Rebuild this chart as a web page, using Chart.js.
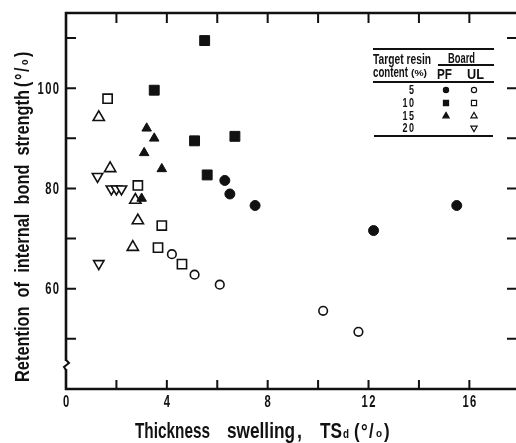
<!DOCTYPE html>
<html>
<head>
<meta charset="utf-8">
<script src="https://cdn.jsdelivr.net/npm/chart.js@4.4.0/dist/chart.umd.min.js"></script>
<style>
html,body{margin:0;padding:0;background:#fff}
canvas{display:block}
</style>
</head>
<body>
<canvas id="ibChart" width="516" height="443"></canvas>
<script>
const FONT = '"Liberation Sans", Arial, sans-serif';

// thickness swelling TSd (%) vs retention of IB strength (%)
const pf5TS  = [6.3, 6.5, 7.5, 12.2, 15.5];
const pf5IB  = [81.6, 78.9, 76.6, 71.6, 76.6];
const pf10TS = [5.5, 3.5, 5.1, 6.7, 5.6];
const pf10IB = [109.5, 99.6, 89.5, 90.4, 82.7];
const pf15TS = [3.2, 3.5, 3.1, 3.8, 3.0];
const pf15IB = [92.0, 90.0, 87.1, 83.9, 78.0];
const ul5TS  = [4.2, 5.1, 6.1, 10.2, 11.6];
const ul5IB  = [66.9, 62.8, 60.8, 55.6, 51.4];
const ul10TS = [1.65, 2.85, 3.8, 3.65, 4.6];
const ul10IB = [97.9, 80.6, 72.6, 68.2, 64.9];
const ul15TS = [1.3, 1.75, 2.75, 2.85, 2.65];
const ul15IB = [94.2, 84.0, 77.7, 73.6, 68.3];
const ul20TS = [1.25, 1.8, 2.0, 2.2, 1.3];
const ul20IB = [82.4, 79.9, 79.9, 79.9, 65.0];

const xLabels = [0, 4, 8, 12, 16];
const yLabels = [60, 80, 100];
const xTickMarks = [2, 4, 6, 8, 10, 12, 14, 16];
const yTickMarks = [50, 60, 70, 80, 90, 100, 110];
const resinContents = ['5', '10', '15', '20'];

const pts = (xs, ys) => xs.map((x, i) => ({x: x, y: ys[i]}));

function series(label, xs, ys, style, filled, radius, rotation) {
    return {
        label: label,
        data: pts(xs, ys),
        pointStyle: style,
        pointRadius: radius,
        pointRotation: rotation || 0,
        backgroundColor: filled ? '#111' : '#fff',
        borderColor: '#111',
        borderWidth: filled ? 1 : 1.6,
        showLine: false,
        clip: false
    };
}

const datasets = [
    series('PF 5', pf5TS, pf5IB, 'circle', true, 5),
    series('PF 10', pf10TS, pf10IB, 'rect', true, 7),
    series('PF 15', pf15TS, pf15IB, 'triangle', true, 5.5),
    series('UL 5', ul5TS, ul5IB, 'circle', false, 4.3),
    series('UL 10', ul10TS, ul10IB, 'rect', false, 6.5),
    series('UL 15', ul15TS, ul15IB, 'triangle', false, 6.5),
    series('UL 20', ul20TS, ul20IB, 'triangle', false, 6, 180)
];

// legend table symbols: [PF, UL] for each resin content row
const legendMarks = [
    [{pointStyle: 'circle', radius: 2.6, fill: true}, {pointStyle: 'circle', radius: 2.6, fill: false}],
    [{pointStyle: 'rect', radius: 3.6, fill: true}, {pointStyle: 'rect', radius: 3.6, fill: false}],
    [{pointStyle: 'triangle', radius: 3.6, fill: true}, {pointStyle: 'triangle', radius: 3.6, fill: false}],
    [null, {pointStyle: 'triangle', radius: 3.6, rotation: 180, fill: false}]
];

// condensed text: squeeze horizontally by sx
function cText(ctx, text, x, y, size, sx, align, spacing) {
    ctx.save();
    ctx.font = 'bold ' + size + 'px ' + FONT;
    ctx.letterSpacing = (spacing || 0) + 'px';
    const w = (ctx.measureText(text).width - (spacing || 0)) * sx;
    const left = align === 'center' ? x - w / 2 : align === 'right' ? x - w : x;
    ctx.translate(left, y);
    ctx.scale(sx, 1);
    ctx.textAlign = 'left';
    ctx.fillText(text, 0, 0);
    ctx.restore();
    return w;
}

// text squeezed to fit between x0 and x1
function fitText(ctx, text, x0, x1, y, size, spacing) {
    ctx.save();
    ctx.font = 'bold ' + size + 'px ' + FONT;
    ctx.letterSpacing = (spacing || 0) + 'px';
    const w = ctx.measureText(text).width - (spacing || 0);
    ctx.restore();
    cText(ctx, text, x0, y, size, (x1 - x0) / w, 'left', spacing);
}

// "(°/o)" with a small lowered o
function percentUnit(ctx, x, y, size) {
    cText(ctx, '(', x, y, size, 0.8, 'left');
    cText(ctx, '°', x + 7, y, size, 0.8, 'left');
    cText(ctx, '/', x + 15, y, size, 0.8, 'left');
    cText(ctx, 'o', x + 22, y - 1, Math.round(size * 0.5), 0.9, 'left');
    cText(ctx, ')', x + 30, y, size, 0.8, 'left');
}

const framePlugin = {
    id: 'frame',
    afterDraw(chart) {
        const ctx = chart.ctx;
        const a = chart.chartArea;
        const xs = chart.scales.x, ys = chart.scales.y;
        ctx.save();
        ctx.strokeStyle = '#111';
        ctx.fillStyle = '#111';
        ctx.lineCap = 'butt';
        ctx.lineWidth = 2.6;
        ctx.beginPath();
        ctx.moveTo(a.left, a.bottom);
        ctx.lineTo(a.left, a.top);
        ctx.lineTo(a.right, a.top);
        ctx.moveTo(a.left - 1.3, a.bottom);
        ctx.lineTo(a.right, a.bottom);
        ctx.stroke();
        ctx.lineWidth = 2;
        ctx.beginPath();
        xTickMarks.forEach(v => {
            const px = xs.getPixelForValue(v);
            ctx.moveTo(px, a.bottom); ctx.lineTo(px, a.bottom - 9);
            ctx.moveTo(px, a.top); ctx.lineTo(px, a.top + 10);
        });
        yTickMarks.forEach(v => {
            const py = ys.getPixelForValue(v);
            ctx.moveTo(a.left, py); ctx.lineTo(a.left + 10, py);
            ctx.moveTo(a.right, py); ctx.lineTo(a.right - 9, py);
        });
        ctx.stroke();
        // axis break
        const by = ys.getPixelForValue(44.8);
        ctx.fillStyle = '#fff';
        ctx.fillRect(a.left - 3, by - 4, 6, 8);
        ctx.fillStyle = '#111';
        ctx.lineWidth = 2;
        ctx.beginPath();
        ctx.moveTo(a.left, by - 5);
        ctx.lineTo(a.left + 3, by - 2);
        ctx.lineTo(a.left - 2, by + 2);
        ctx.lineTo(a.left, by + 5);
        ctx.stroke();

        // tick labels
        ctx.textBaseline = 'middle';
        xLabels.forEach(v => cText(ctx, String(v), xs.getPixelForValue(v), 403, 16, 0.7, 'center', 2));
        yLabels.forEach(v => cText(ctx, String(v), 59, ys.getPixelForValue(v) + 1, 16, 0.7, 'right', 2));

        // x title
        ctx.textBaseline = 'alphabetic';
        fitText(ctx, 'Thickness', 135, 210, 438, 22);
        fitText(ctx, 'swelling', 227, 295, 438, 22);
        fitText(ctx, ',', 297, 302, 438, 22);
        fitText(ctx, 'TS', 320, 342, 438, 22);
        fitText(ctx, 'd', 343, 349, 438, 12);
        percentUnit(ctx, 354, 438, 21);

        // y title, rotated (reads bottom to top)
        ctx.save();
        ctx.translate(29, 382);
        ctx.rotate(-Math.PI / 2);
        fitText(ctx, 'Retention  of  internal  bond  strength', 0, 292, 0, 21);
        percentUnit(ctx, 295, 0, 20);
        ctx.restore();
        ctx.restore();
    }
};

const legendTablePlugin = {
    id: 'legendTable',
    afterDraw(chart) {
        const ctx = chart.ctx;
        ctx.save();
        ctx.strokeStyle = '#111';
        ctx.fillStyle = '#111';
        ctx.lineWidth = 1.8;
        ctx.beginPath();
        ctx.moveTo(373, 49); ctx.lineTo(494, 49);
        ctx.moveTo(438, 65); ctx.lineTo(494, 65);
        ctx.moveTo(373, 82); ctx.lineTo(494, 82);
        ctx.moveTo(374, 136); ctx.lineTo(493, 136);
        ctx.stroke();

        ctx.textBaseline = 'alphabetic';
        fitText(ctx, 'Target resin', 373, 431, 64, 15);
        fitText(ctx, 'Board', 448, 475, 63, 14);
        fitText(ctx, 'content', 373, 408, 77, 14);
        fitText(ctx, '(%)', 411, 427, 76, 9);
        fitText(ctx, 'PF', 437, 452, 79, 14);
        fitText(ctx, 'UL', 467, 484, 79, 14);

        const rowY = [90, 103, 116, 128];
        ctx.textBaseline = 'middle';
        resinContents.forEach((r, i) => {
            cText(ctx, r, 414, rowY[i] + 1, 12, 0.75, 'right', 2);
            legendMarks[i].forEach((m, j) => {
                if (!m) return;
                ctx.fillStyle = m.fill ? '#111' : '#fff';
                ctx.strokeStyle = '#111';
                ctx.lineWidth = 1.2;
                Chart.helpers.drawPoint(ctx, {
                    pointStyle: m.pointStyle,
                    radius: m.radius,
                    rotation: m.rotation || 0,
                    borderWidth: 1.2
                }, j === 0 ? 446 : 474, rowY[i]);
                ctx.fillStyle = '#111';
            });
        });
        ctx.restore();
    }
};

new Chart(document.getElementById('ibChart').getContext('2d'), {
    type: 'scatter',
    data: {datasets: datasets},
    options: {
        responsive: false,
        animation: false,
        events: [],
        layout: {autoPadding: false, padding: {top: 13, right: 0, bottom: 0, left: 0}},
        plugins: {legend: {display: false}, tooltip: {enabled: false}},
        scales: {
            x: {
                type: 'linear',
                min: 0,
                max: 17.85,
                grid: {display: false, drawTicks: false},
                border: {display: false},
                ticks: {display: false, stepSize: 2},
                afterFit: s => { s.height = 54; }
            },
            y: {
                type: 'linear',
                min: 40,
                max: 115,
                grid: {display: false, drawTicks: false},
                border: {display: false},
                ticks: {display: false, stepSize: 10},
                afterFit: s => { s.width = 66; }
            }
        }
    },
    plugins: [framePlugin, legendTablePlugin]
});
</script>
</body>
</html>
